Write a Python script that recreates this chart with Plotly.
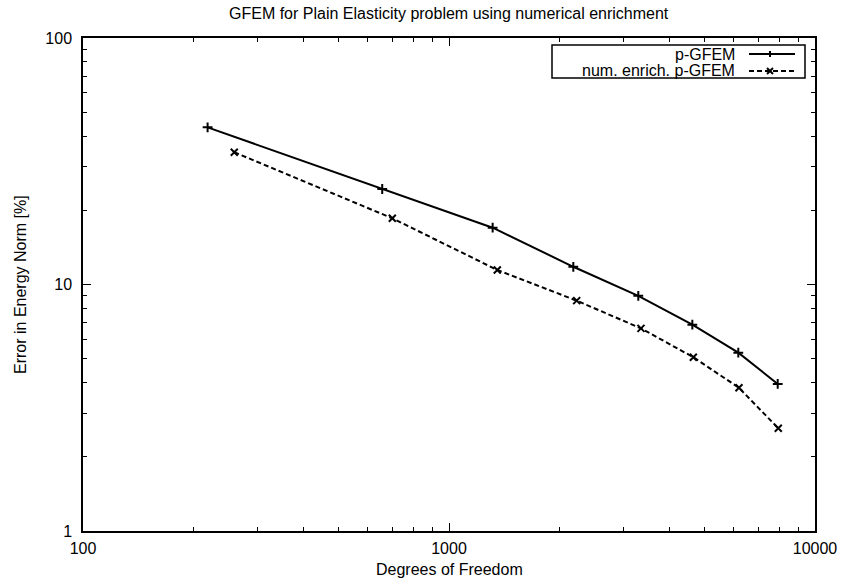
import plotly.graph_objects as go

# ---- data ----
dof_p = [219, 657, 1316, 2186, 3290, 4622, 6172, 7909]
err_p = [43.4, 24.4, 17.0, 11.8, 9.0, 6.87, 5.29, 3.95]

dof_num = [259, 700, 1355, 2233, 3346, 4651, 6199, 7938]
err_num = [34.4, 18.56, 11.45, 8.6, 6.64, 5.07, 3.81, 2.61]

series_names = ["p-GFEM", "num. enrich. p-GFEM"]
x_tick_vals = [100, 1000, 10000]
x_tick_text = ["100", "1000", "10000"]
y_tick_vals = [1, 10, 100]
y_tick_text = ["1", "10", "100"]

title_text = "GFEM for Plain Elasticity problem using numerical enrichment"
x_title = "Degrees of Freedom"
y_title = "Error in Energy Norm [%]"

# ---- layout geometry (pixels) ----
W, H = 849, 584
L, R, T, B = 83, 815, 38, 531
FONT = dict(family="Liberation Sans, Arial, sans-serif", size=16, color="black")


def px(x):
    return (x - L) / (R - L)


def py(y):
    return (B - y) / (B - T)


def minor_vals(lo_exp, hi_exp):
    vals = []
    for e in range(lo_exp, hi_exp):
        for m in range(2, 10):
            vals.append(m * 10 ** e)
    return vals


fig = go.Figure()
fig.add_trace(go.Scatter(
    x=dof_p, y=err_p, mode="lines+markers", name=series_names[0],
    line=dict(color="black", width=2),
    marker=dict(symbol="cross-thin-open", size=7, color="black",
                line=dict(color="black", width=2)),
    showlegend=False,
))
fig.add_trace(go.Scatter(
    x=dof_num, y=err_num, mode="lines+markers", name=series_names[1],
    line=dict(color="black", width=2, dash="5px,3px"),
    marker=dict(symbol="x-thin-open", size=7, color="black",
                line=dict(color="black", width=2)),
    showlegend=False,
))

axis_common = dict(
    type="log", showline=True, linecolor="black", linewidth=1.5, mirror="allticks",
    ticks="inside", ticklen=8, tickwidth=1, tickcolor="black",
    showgrid=False, zeroline=False, tickfont=FONT, tickmode="array",
)

fig.update_xaxes(
    **axis_common, range=[2, 4], tickvals=x_tick_vals, ticktext=x_tick_text,
    minor=dict(ticks="inside", ticklen=4, tickwidth=1, tickcolor="black",
               tickmode="array", tickvals=minor_vals(2, 4), showgrid=False),
    ticklabelstandoff=2,
)
fig.update_yaxes(
    **axis_common, range=[0, 2], tickvals=y_tick_vals, ticktext=y_tick_text,
    minor=dict(ticks="inside", ticklen=4, tickwidth=1, tickcolor="black",
               tickmode="array", tickvals=minor_vals(0, 2), showgrid=False),
    ticklabelstandoff=6,
)

# ---- custom legend (gnuplot style: text left of sample) ----
shapes = []
box = dict(x0=552, x1=805, y0=45, y1=78)
shapes.append(dict(type="rect", xref="paper", yref="paper",
                   x0=px(box["x0"]), x1=px(box["x1"]),
                   y0=py(box["y1"]), y1=py(box["y0"]),
                   line=dict(color="black", width=1.5), fillcolor="white", layer="above"))
rows = [54, 71]
sx0, sx1, mx, ms = 749, 795, 770, 3
shapes.append(dict(type="line", xref="paper", yref="paper",
                   x0=px(sx0), x1=px(sx1), y0=py(rows[0]), y1=py(rows[0]),
                   line=dict(color="black", width=2), layer="above"))
shapes.append(dict(type="line", xref="paper", yref="paper",
                   x0=px(sx0), x1=px(sx1), y0=py(rows[1]), y1=py(rows[1]),
                   line=dict(color="black", width=2, dash="5px,3px"), layer="above"))
# plus marker
shapes.append(dict(type="line", xref="paper", yref="paper",
                   x0=px(mx), x1=px(mx), y0=py(rows[0] - ms), y1=py(rows[0] + ms),
                   line=dict(color="black", width=2), layer="above"))
# x marker
for d in (1, -1):
    shapes.append(dict(type="line", xref="paper", yref="paper",
                       x0=px(mx - ms), x1=px(mx + ms),
                       y0=py(rows[1] - d * ms), y1=py(rows[1] + d * ms),
                       line=dict(color="black", width=2), layer="above"))

annotations = []
for name, ry in zip(series_names, rows):
    annotations.append(dict(text=name, xref="paper", yref="paper", x=px(737), y=py(ry),
                            xanchor="right", yanchor="middle", showarrow=False, font=FONT))
annotations.append(dict(text=title_text, xref="paper", yref="paper", x=px(449), y=py(14),
                        xanchor="center", yanchor="middle", showarrow=False, font=FONT))
annotations.append(dict(text=x_title, xref="paper", yref="paper", x=px(449), y=py(569),
                        xanchor="center", yanchor="middle", showarrow=False, font=FONT))
annotations.append(dict(text=y_title, xref="paper", yref="paper", x=px(20), y=py(285),
                        xanchor="center", yanchor="middle", showarrow=False, font=FONT,
                        textangle=-90))

fig.update_layout(
    width=W, height=H,
    margin=dict(l=L, r=W - R, t=T, b=H - B),
    paper_bgcolor="white", plot_bgcolor="white",
    font=FONT, showlegend=False,
    shapes=shapes, annotations=annotations,
)

fig.write_html("out.html")
